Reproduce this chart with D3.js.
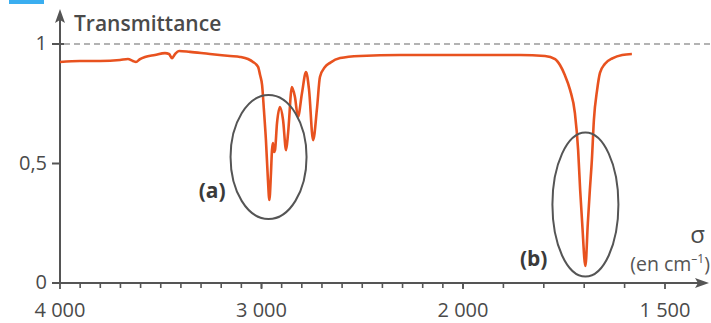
<!DOCTYPE html>
<html>
<head>
<meta charset="utf-8">
<script src="https://cdn.jsdelivr.net/npm/d3@7"></script>
<style>
  html, body { margin: 0; padding: 0; background: #fff; }
  svg { display: block; font-family: "Open Sans", sans-serif; }
</style>
</head>
<body>
<div id="chart"></div>
<script>
// wavenumber (cm-1) and transmittance
const sigma = [4000, 3901, 3801, 3702, 3663, 3638, 3623, 3603, 3578, 3529, 3479, 3459, 3444, 3429, 3409,
  3355, 3256, 3156, 3107, 3067, 3042, 3017, 3007, 2997, 2988, 2978, 2968, 2961, 2953, 2948, 2943, 2938,
  2933, 2923, 2908, 2893, 2878, 2868, 2849, 2834, 2819, 2799, 2779, 2764, 2744, 2724, 2710, 2685, 2660,
  2610, 2511, 2313, 2000, 1859, 1797, 1772, 1760, 1748, 1735, 1723, 1715, 1710, 1705, 1697, 1691, 1686,
  1681, 1676, 1668, 1661, 1649, 1629, 1606, 1582];
const transmittance = [0.925, 0.929, 0.929, 0.933, 0.937, 0.929, 0.925, 0.937, 0.946, 0.954, 0.962, 0.958,
  0.941, 0.958, 0.971, 0.967, 0.958, 0.950, 0.946, 0.937, 0.925, 0.904, 0.870, 0.828, 0.724, 0.598, 0.431,
  0.347, 0.460, 0.556, 0.586, 0.548, 0.556, 0.669, 0.736, 0.682, 0.556, 0.628, 0.820, 0.778, 0.695, 0.795,
  0.883, 0.808, 0.598, 0.736, 0.862, 0.904, 0.921, 0.941, 0.950, 0.954, 0.954, 0.954, 0.950, 0.937, 0.912,
  0.870, 0.808, 0.711, 0.556, 0.389, 0.251, 0.071, 0.251, 0.389, 0.515, 0.682, 0.808, 0.879, 0.916, 0.941,
  0.954, 0.958];

const xTicks = [4000, 3000, 2000, 1500];
const xTickLabels = ['4 000', '3 000', '2 000', '1 500'];
const yTicks = [0, 0.5, 1];
const yTickLabels = ['0', '0,5', '1'];

// circled bands: centre (sigma, T), half-width / half-height in px
const bands = [
  {label: '(a)', sigma: 2965, t: 0.527, rx: 38, ry: 62},
  {label: '(b)', sigma: 1697, t: 0.328, rx: 33, ry: 72}
];

const W = 711, H = 323;
const AXIS = '#555';
const TEXT = '#4a4a4a';

// the wavenumber axis changes scale at 2000 cm-1
const x = d3.scaleLinear().domain([4000, 2000, 1500]).range([60, 463, 665]);
const y = d3.scaleLinear().domain([0, 1]).range([283, 44]);

const svg = d3.select('#chart').append('svg')
  .attr('width', W).attr('height', H);

// little blue tab at the top left
svg.append('rect').attr('x', 9).attr('y', 0).attr('width', 35).attr('height', 4).attr('fill', '#3aaef0');

// dashed 100 % line
svg.append('line')
  .attr('x1', x(4000) + 4).attr('x2', W)
  .attr('y1', y(1)).attr('y2', y(1))
  .attr('stroke', '#9a9a9a').attr('stroke-width', 1.5).attr('stroke-dasharray', '6,4');

// axes with arrows
const axes = svg.append('g').attr('stroke', AXIS).attr('stroke-width', 2).attr('fill', 'none');
axes.append('line').attr('x1', x(4000)).attr('x2', x(4000)).attr('y1', y(0)).attr('y2', 18);
axes.append('line').attr('x1', x(4000)).attr('x2', 700).attr('y1', y(0)).attr('y2', y(0));
svg.append('path').attr('fill', AXIS)
  .attr('d', `M${x(4000)},9 L${x(4000) - 5},23 L${x(4000)},20 L${x(4000) + 5},23 Z`);
svg.append('path').attr('fill', AXIS)
  .attr('d', `M709,${y(0)} L695,${y(0) - 5} L698,${y(0)} L695,${y(0) + 5} Z`);

// minor ticks every 100 cm-1
const minor = d3.range(3900, 1500, -100);
axes.selectAll('.minor').data(minor).enter().append('line')
  .attr('x1', d => x(d)).attr('x2', d => x(d))
  .attr('y1', y(0) - 1).attr('y2', y(0) + 5)
  .attr('stroke-width', 1.6);
axes.selectAll('.major').data(xTicks).enter().append('line')
  .attr('x1', d => x(d)).attr('x2', d => x(d))
  .attr('y1', y(0) - 1).attr('y2', y(0) + 6)
  .attr('stroke-width', 1.8);
axes.selectAll('.ytick').data(yTicks).enter().append('line')
  .attr('x1', x(4000) - 8).attr('x2', d => d === 0.5 ? x(4000) : x(4000) + 4)
  .attr('y1', d => y(d)).attr('y2', d => y(d));

svg.selectAll('.xlab').data(xTicks).enter().append('text')
  .attr('x', d => x(d)).attr('y', 317)
  .attr('text-anchor', 'middle').attr('font-size', 20).attr('fill', TEXT)
  .text((d, i) => xTickLabels[i]);
svg.selectAll('.ylab').data(yTicks).enter().append('text')
  .attr('x', 47).attr('y', d => y(d) + 6)
  .attr('text-anchor', 'end').attr('font-size', 20).attr('fill', TEXT)
  .text((d, i) => yTickLabels[i]);

svg.append('text').attr('x', 74).attr('y', 31)
  .attr('font-size', 21).attr('font-weight', 600).attr('fill', TEXT)
  .text('Transmittance');

svg.append('text').attr('x', 705).attr('y', 243).attr('text-anchor', 'end')
  .attr('font-size', 24).attr('fill', TEXT).text('σ');
const unit = svg.append('text').attr('x', 710).attr('y', 271).attr('text-anchor', 'end')
  .attr('font-size', 19.5).attr('fill', '#555');
unit.append('tspan').text('(en cm');
unit.append('tspan').attr('font-size', 12).attr('dy', -8).text('–1');
unit.append('tspan').attr('dy', 8).text(')');

// spectrum
const points = sigma.map((s, i) => ({s, t: transmittance[i]}));
const line = d3.line()
  .x(d => x(d.s))
  .y(d => y(d.t))
  .curve(d3.curveMonotoneX);
svg.append('path').datum(points)
  .attr('d', line)
  .attr('fill', 'none').attr('stroke', '#e8521f').attr('stroke-width', 2.6)
  .attr('stroke-linejoin', 'round');

// circled bands
svg.selectAll('.band').data(bands).enter().append('ellipse')
  .attr('cx', d => x(d.sigma)).attr('cy', d => y(d.t))
  .attr('rx', d => d.rx).attr('ry', d => d.ry)
  .attr('fill', 'none').attr('stroke', '#555').attr('stroke-width', 2);
svg.selectAll('.bandlab').data(bands).enter().append('text')
  .attr('x', d => x(d.sigma) - d.rx - 5).attr('y', (d, i) => i === 0 ? 198 : 266)
  .attr('text-anchor', 'end').attr('font-size', 21).attr('font-weight', 700).attr('fill', '#3a3a3a')
  .text(d => d.label);
</script>
</body>
</html>
